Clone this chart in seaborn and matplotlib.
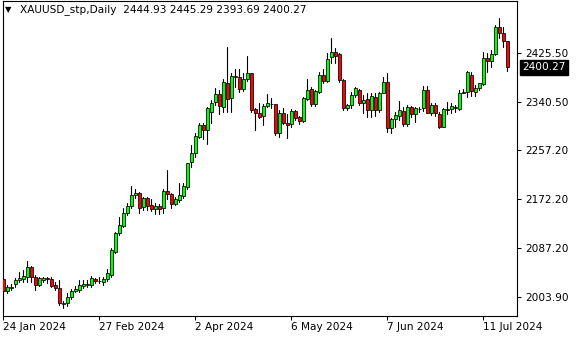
import numpy as np
import pandas as pd
import matplotlib
matplotlib.use("Agg")
import matplotlib.pyplot as plt
import matplotlib.transforms as mtransforms
import seaborn as sns

# ---------------- data ----------------
symbol_title = "XAUUSD_stp,Daily"
dates = pd.bdate_range("2024-01-24", "2024-07-19").drop(pd.Timestamp("2024-03-29"))
tick_dates = ["2024-01-24", "2024-02-27", "2024-04-02", "2024-05-06", "2024-06-07", "2024-07-11"]
price_ticks = [2003.90, 2087.20, 2172.20, 2257.20, 2340.50, 2425.50]

opens = [2034.0, 2013.5, 2018.5, 2025.3, 2032.8, 2035.0, 2038.5, 2055.7, 2038.5, 2023.6,
         2033.5, 2035.5, 2034.5, 2024.1, 2018.4, 1991.5, 1992.5, 2002.9, 2013.8, 2015.5,
         2022.4, 2023.6, 2023.6, 2034.5, 2031.0, 2029.8, 2034.0, 2041.4, 2081.7, 2114.5,
         2126.6, 2148.0, 2160.6, 2179.6, 2182.6, 2158.4, 2173.9, 2161.8, 2154.9, 2160.6,
         2157.7, 2187.1, 2181.4, 2164.1, 2171.0, 2178.4, 2193.0, 2236.0, 2251.7, 2280.4,
         2300.6, 2292.0, 2322.5, 2339.8, 2354.2, 2332.2, 2372.7, 2348.0, 2383.5, 2383.0,
         2362.3, 2379.6, 2390.0, 2327.7, 2321.8, 2316.1, 2333.4, 2337.5, 2336.9, 2286.3,
         2320.8, 2303.5, 2301.5, 2324.8, 2313.9, 2308.0, 2345.0, 2362.3, 2336.9, 2358.1,
         2387.0, 2377.1, 2417.6, 2427.3, 2423.3, 2378.4, 2329.5, 2335.2, 2352.4, 2361.1,
         2338.1, 2345.0, 2326.5, 2349.0, 2326.5, 2356.4, 2375.4, 2294.9, 2310.4, 2316.1,
         2325.3, 2302.3, 2331.2, 2319.6, 2329.0, 2329.5, 2361.1, 2321.8, 2335.2, 2319.6,
         2297.7, 2327.7, 2327.7, 2332.5, 2328.2, 2356.4, 2358.1, 2387.0, 2358.1, 2364.0,
         2371.4, 2416.9, 2411.7, 2422.8, 2470.5, 2459.0, 2444.93]

highs = [2037.0, 2024.0, 2025.5, 2036.7, 2047.1, 2050.0, 2066.1, 2057.0, 2041.4, 2038.5,
         2038.5, 2037.4, 2037.4, 2028.8, 2032.8, 1997.0, 2009.8, 2016.7, 2022.4, 2032.8,
         2032.8, 2032.8, 2039.7, 2036.7, 2038.5, 2038.5, 2051.2, 2087.5, 2116.2, 2142.1,
         2156.7, 2166.3, 2195.2, 2189.5, 2185.3, 2176.7, 2176.7, 2172.2, 2165.3, 2164.1,
         2189.5, 2222.8, 2183.6, 2176.7, 2200.9, 2199.8, 2235.5, 2266.0, 2286.3, 2303.5,
         2303.5, 2332.2, 2343.8, 2364.0, 2361.1, 2379.6, 2434.9, 2389.9, 2396.8, 2396.8,
         2390.0, 2419.8, 2391.0, 2330.0, 2338.1, 2336.9, 2353.6, 2346.7, 2336.9, 2326.5,
         2329.5, 2320.0, 2327.7, 2326.5, 2316.1, 2349.5, 2379.6, 2366.8, 2361.1, 2392.7,
         2396.8, 2425.5, 2450.4, 2433.1, 2424.5, 2379.6, 2336.9, 2358.1, 2366.8, 2362.3,
         2352.4, 2355.4, 2355.4, 2355.4, 2358.1, 2384.0, 2389.9, 2312.2, 2323.6, 2342.1,
         2332.2, 2335.2, 2333.4, 2332.2, 2332.2, 2368.0, 2368.0, 2338.1, 2338.1, 2323.6,
         2329.5, 2340.9, 2338.1, 2335.2, 2361.1, 2362.3, 2393.9, 2392.7, 2369.7, 2373.8,
         2427.3, 2425.0, 2430.0, 2473.4, 2485.0, 2470.0, 2445.29]

lows = [2010.0, 2009.8, 2015.5, 2021.2, 2029.8, 2029.8, 2029.8, 2029.8, 2015.5, 2022.4,
        2029.8, 2027.1, 2020.1, 2015.5, 1989.6, 1983.9, 1987.8, 1999.4, 2012.5, 2012.5,
        2018.4, 2020.1, 2020.1, 2027.1, 2027.1, 2024.1, 2031.5, 2038.5, 2078.9, 2110.5,
        2123.8, 2145.1, 2156.7, 2174.0, 2149.1, 2153.7, 2153.7, 2152.5, 2146.8, 2146.8,
        2149.1, 2172.7, 2156.7, 2161.8, 2168.1, 2174.0, 2189.5, 2228.5, 2245.8, 2277.6,
        2275.9, 2267.8, 2303.5, 2335.2, 2319.6, 2323.6, 2323.6, 2323.6, 2366.8, 2358.1,
        2359.9, 2377.1, 2323.6, 2291.9, 2312.2, 2300.0, 2331.2, 2329.5, 2283.3, 2280.4,
        2301.8, 2277.6, 2298.0, 2309.2, 2303.0, 2306.3, 2343.8, 2333.4, 2333.4, 2355.4,
        2372.7, 2375.4, 2408.3, 2407.2, 2375.4, 2326.5, 2326.5, 2329.5, 2349.5, 2335.2,
        2320.8, 2313.9, 2315.0, 2316.0, 2323.6, 2355.4, 2289.0, 2287.3, 2297.7, 2309.2,
        2298.9, 2298.9, 2315.0, 2306.3, 2323.6, 2325.3, 2321.8, 2317.9, 2316.1, 2294.9,
        2296.6, 2319.6, 2320.8, 2323.6, 2326.5, 2355.4, 2348.4, 2350.7, 2350.7, 2361.1,
        2369.7, 2392.7, 2400.0, 2421.6, 2450.4, 2435.0, 2393.69]

closes = [2013.0, 2020.0, 2021.0, 2032.8, 2036.7, 2039.7, 2054.7, 2038.5, 2023.6, 2036.7,
          2036.0, 2034.5, 2022.4, 2018.4, 1992.5, 1993.5, 2002.9, 2013.8, 2017.2, 2023.6,
          2025.8, 2025.8, 2036.2, 2030.5, 2031.8, 2034.5, 2044.3, 2084.6, 2113.5, 2127.8,
          2148.0, 2160.6, 2179.1, 2182.6, 2157.7, 2173.9, 2161.2, 2156.0, 2160.6, 2156.0,
          2186.6, 2180.8, 2164.1, 2172.7, 2179.6, 2195.2, 2234.4, 2251.7, 2281.6, 2300.6,
          2291.9, 2329.5, 2339.1, 2354.2, 2334.0, 2374.4, 2345.0, 2385.3, 2384.5, 2362.3,
          2379.6, 2391.0, 2326.5, 2321.8, 2314.9, 2333.4, 2339.1, 2336.5, 2286.3, 2320.8,
          2303.5, 2300.6, 2324.8, 2312.2, 2308.0, 2346.7, 2361.1, 2336.9, 2359.4, 2387.0,
          2377.1, 2414.1, 2427.3, 2420.3, 2378.4, 2329.5, 2335.2, 2352.4, 2364.0, 2338.1,
          2343.8, 2326.5, 2350.0, 2326.5, 2356.4, 2375.4, 2294.9, 2310.4, 2317.9, 2326.5,
          2302.3, 2332.2, 2319.6, 2329.5, 2328.2, 2361.1, 2322.0, 2335.2, 2320.8, 2297.7,
          2327.7, 2326.5, 2333.4, 2330.5, 2356.4, 2357.0, 2392.7, 2359.9, 2365.1, 2372.7,
          2415.8, 2412.0, 2422.8, 2470.5, 2459.0, 2446.3, 2400.27]

# ---------------- style ----------------
sns.set_style("white")
plt.rcParams["font.family"] = ["DejaVu Sans"]
FS = 7.6

df = pd.DataFrame({"date": dates, "open": opens, "high": highs, "low": lows, "close": closes})
df["idx"] = np.arange(len(df))
wick_df = pd.concat([
    df[["idx", "low"]].rename(columns={"low": "price"}),
    df[["idx", "high"]].rename(columns={"high": "price"}),
]).sort_values(["idx", "price"])

fig = plt.figure(figsize=(5.8, 3.4), dpi=100)
ax = fig.add_axes([2.5 / 580, 24 / 340, (516.7 - 2.5) / 580, 315 / 340])

# wicks via seaborn
sns.lineplot(data=wick_df, x="idx", y="price", units="idx", estimator=None,
             color="black", linewidth=0.8, sort=False, ax=ax, zorder=2)

# bodies
up = (df["close"] >= df["open"]).to_numpy()
body_bottom = np.minimum(df["open"], df["close"]).to_numpy()
body_height = np.maximum(np.abs(df["close"] - df["open"]), 0.4).to_numpy()
colors = ["#00ff00" if u else "#ff0000" for u in up]
ax.bar(df["idx"].to_numpy(), body_height, bottom=body_bottom, width=0.8, color=colors,
       edgecolor="black", linewidth=0.55, zorder=3)

ax.set_xlim(-0.2, 128.35)
ax.set_ylim(1970.5, 2514.9)
ax.set_xlabel("")
ax.set_ylabel("")

# x ticks (dates)
tick_pos = [dates.get_loc(pd.Timestamp(d)) for d in tick_dates]
tick_lab = [f"{pd.Timestamp(d).day} {pd.Timestamp(d).strftime('%b %Y')}" for d in tick_dates]
ax.set_xticks(tick_pos)
ax.set_xticklabels(tick_lab, fontsize=FS, ha="left")
ax.tick_params(axis="x", direction="out", length=3, width=0.75, pad=1.5, colors="black",
               bottom=True)

# y ticks on right
ax.yaxis.tick_right()
ax.set_yticks(price_ticks)
ax.set_yticklabels([f"{v:.2f}" for v in price_ticks], fontsize=FS)
ax.tick_params(axis="y", direction="out", length=3, width=0.75, pad=3, colors="black",
               right=True, left=False)

for s in ax.spines.values():
    s.set_visible(True)
    s.set_color("black")
    s.set_linewidth(0.8)
ax.grid(False)

# current price tag
trans = mtransforms.blended_transform_factory(ax.transAxes, ax.transData)
ax.text(1.0 + 6.0 / 514.2, closes[-1], f"{closes[-1]:.2f}", transform=trans,
        ha="left", va="center", fontsize=FS, color="white", zorder=5,
        bbox=dict(boxstyle="square,pad=0.22", facecolor="black", edgecolor="black"))

# header
fig.text(5 / 580, 1 - 10 / 340, "\u25BC", fontsize=6, va="center", ha="left", color="black")
fig.text(20 / 580, 1 - 10 / 340,
         f"{symbol_title}  {opens[-1]:.2f} {highs[-1]:.2f} {lows[-1]:.2f} {closes[-1]:.2f}",
         fontsize=FS, va="center", ha="left", color="black")

fig.savefig("out.png", dpi=100, facecolor="white")
